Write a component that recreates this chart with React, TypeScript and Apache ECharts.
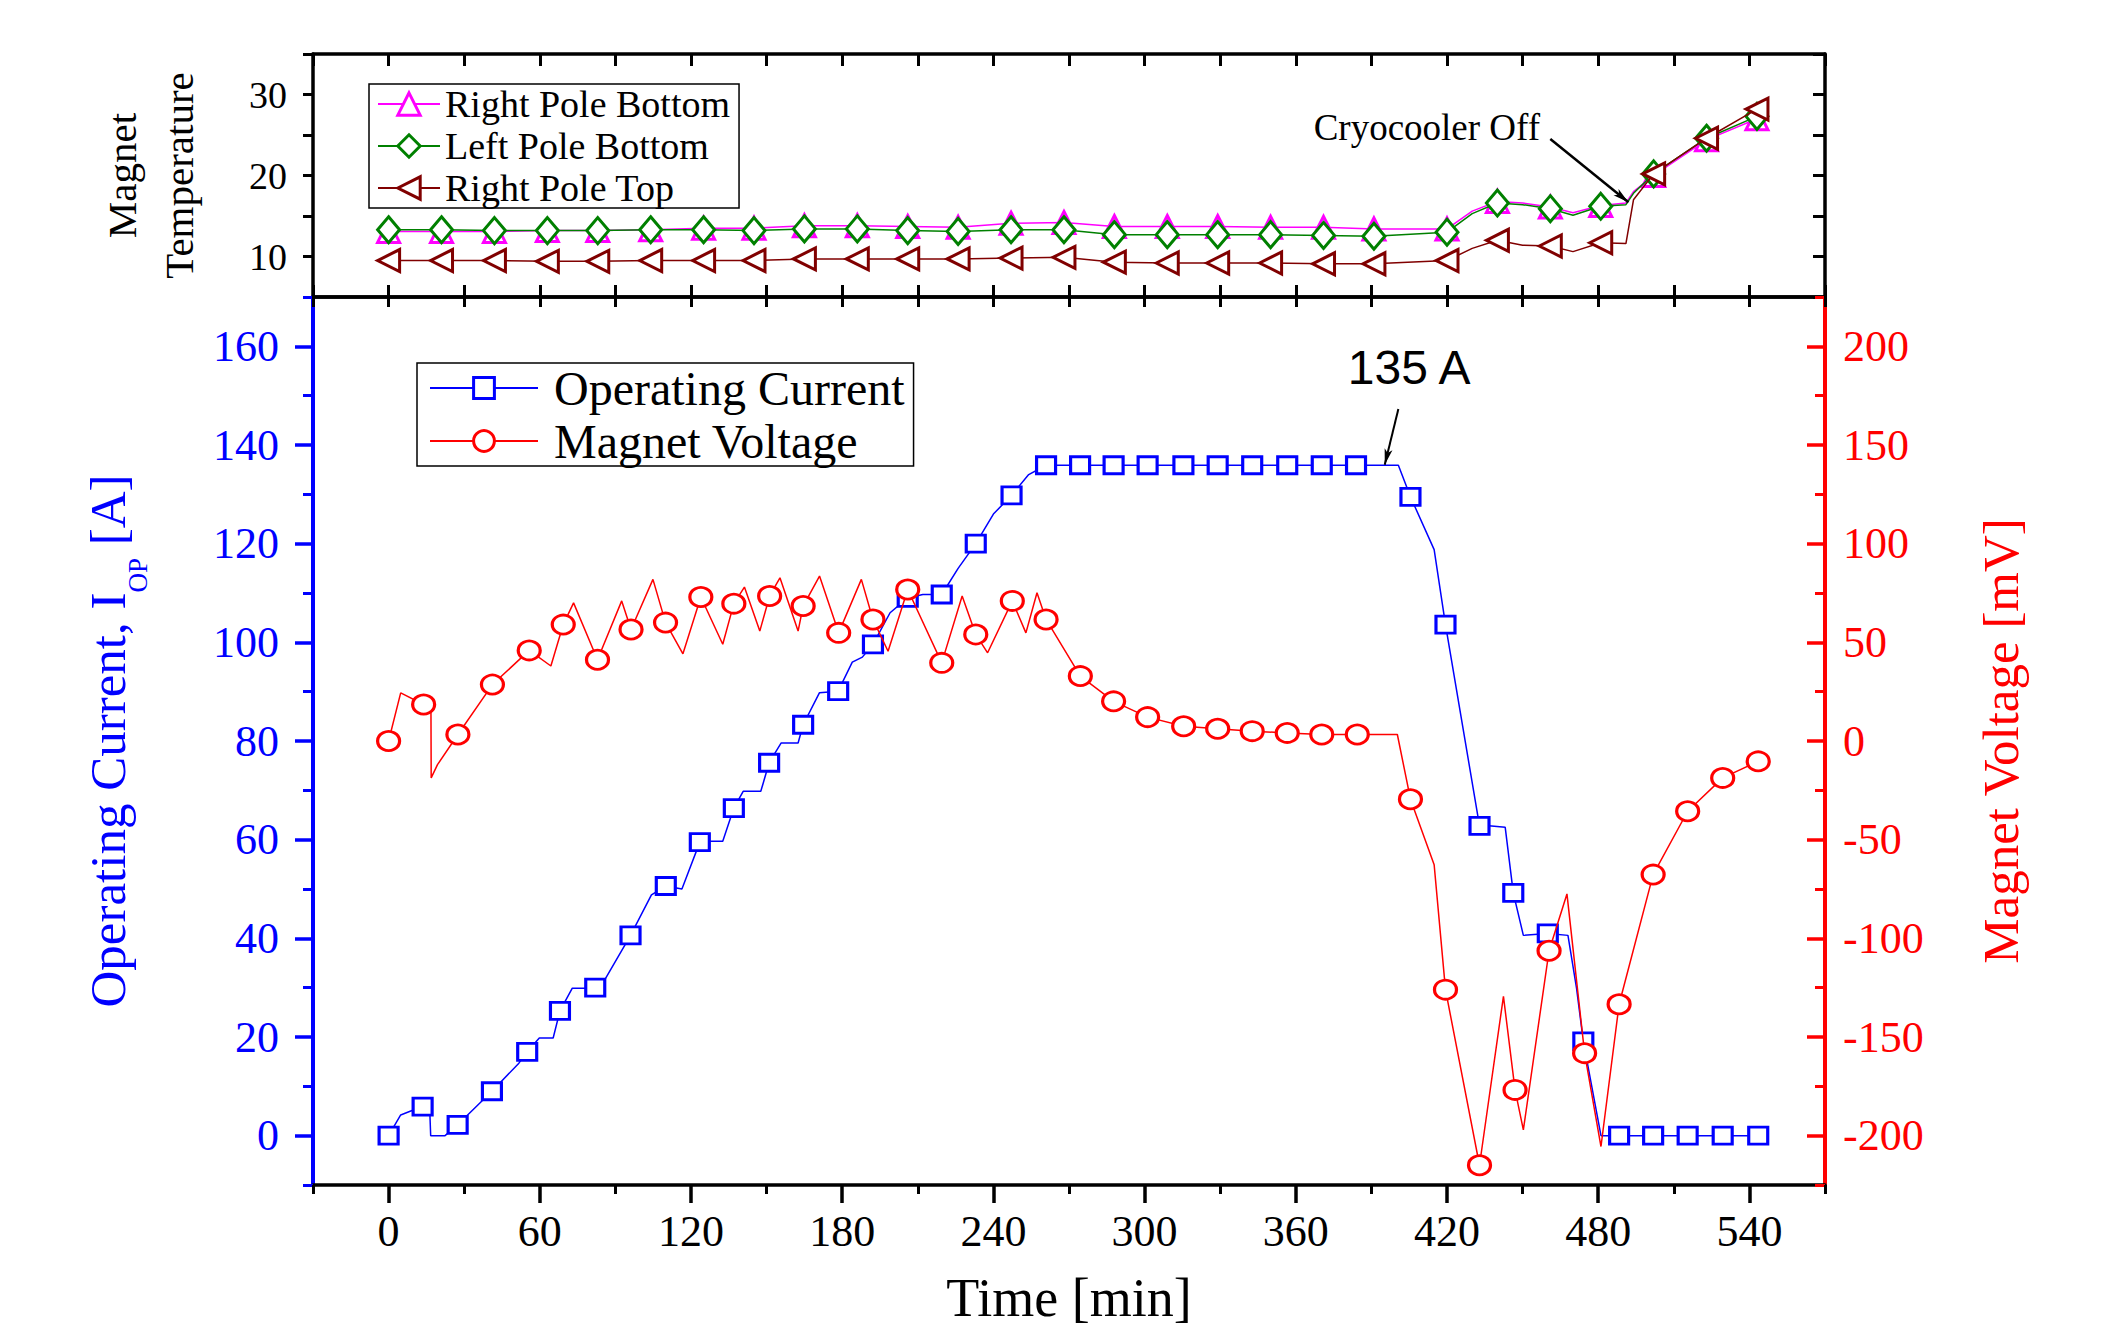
import React, { useEffect, useRef } from "react";
import * as echarts from "echarts";

const SERIF = '"Liberation Serif", "Times New Roman", serif';
const SANS = '"Liberation Sans", Arial, sans-serif';

// ---- tick values ----
const timeTicksMajor = [0, 60, 120, 180, 240, 300, 360, 420, 480, 540];
const timeTicksMinor = [-30, 30, 90, 150, 210, 270, 330, 390, 450, 510, 570];
const currentTicksMajor = [0, 20, 40, 60, 80, 100, 120, 140, 160];
const currentTicksMinor = [-10, 10, 30, 50, 70, 90, 110, 130, 150, 170];
const voltageTicksMajor = [-200, -150, -100, -50, 0, 50, 100, 150, 200];
const voltageTicksMinor = [-225, -175, -125, -75, -25, 25, 75, 125, 175, 225];
const tempTickLabels = [10, 20, 30];

// ---- temperature panel (markers every ~20 min) ----
const tempTimes = [0, 21, 42, 63, 83, 104, 125, 145, 165, 186, 206, 226, 247, 268, 288, 309, 329, 350, 371, 391, 420, 440, 461, 481, 502, 523, 543];
const rightPoleBottom = [13.1, 13.1, 13.1, 13.2, 13.2, 13.3, 13.5, 13.5, 13.8, 13.8, 13.7, 13.6, 14.1, 14.2, 13.7, 13.7, 13.7, 13.6, 13.6, 13.4, 13.4, 16.8, 16.1, 16.3, 20.0, 24.4, 27.0];
const leftPoleBottom = [13.3, 13.3, 13.2, 13.2, 13.2, 13.3, 13.3, 13.2, 13.4, 13.4, 13.2, 13.1, 13.3, 13.3, 12.7, 12.7, 12.7, 12.7, 12.6, 12.5, 13.0, 16.6, 15.9, 16.2, 20.2, 24.6, 27.3];
const rightPoleTop = [9.5, 9.5, 9.5, 9.4, 9.4, 9.5, 9.5, 9.5, 9.7, 9.7, 9.7, 9.7, 9.8, 9.9, 9.3, 9.2, 9.2, 9.2, 9.1, 9.1, 9.5, 12.0, 11.3, 11.7, 20.2, 24.6, 28.2];
// unmarked line points between markers
const rightPoleBottomPath = [[430, 15.6], [450, 16.6], [470, 15.4], [491, 16.6], [494, 18.0]];
const leftPoleBottomPath = [[430, 15.3], [450, 16.4], [470, 15.1], [491, 16.4], [494, 17.8]];
const rightPoleTopPath = [[430, 11.0], [450, 11.4], [470, 10.6], [491, 11.6], [494, 17.0]];

// ---- operating current (A) ----
const currentMarkers = [
  [0, 0], [13.5, 5.9], [27.4, 2.2], [41, 9], [55, 17], [68, 25.3], [82, 30], [96, 40.6], [110, 50.6],
  [123.5, 59.5], [137, 66.4], [151, 75.6], [164.5, 83.3], [178.4, 90.1], [192.2, 99.6], [206, 109],
  [219.5, 109.7], [233, 120], [247.2, 129.8], [260.9, 135.9], [274.4, 135.9], [287.7, 135.9], [301.2, 135.9],
  [315.4, 135.9], [329, 135.9], [342.7, 135.9], [356.6, 135.9], [370.3, 135.9], [383.9, 135.9],
  [405.5, 129.5], [419.4, 103.6], [432.9, 62.8], [446.3, 49.2], [460, 41], [474.1, 19.1],
  [488.3, 0], [501.8, 0], [515.5, 0], [529.4, 0], [543.5, 0],
];
const currentPath = [
  [4.8, 4.2], [8.3, 4.9], [16.4, 4.2], [16.7, 0], [22.4, 0], [51.7, 14.7], [59.8, 19.8], [65.3, 19.8],
  [72.9, 29.9], [79, 29.9], [86.1, 31.9], [104.3, 48.8], [116.4, 50], [127.5, 59.7], [132.6, 59.7],
  [140.7, 69.8], [147.7, 69.8], [155.8, 79.6], [162.5, 79.6], [171, 89.8], [184, 96], [188, 97],
  [199, 106], [212, 109.7], [226, 115], [240, 126], [254, 134], [400.7, 135.9], [414.9, 118.8],
  [436.6, 62.8], [443.1, 62.5], [450.3, 40.6], [468, 40.6], [471.4, 29.9], [481.1, 0],
];

// ---- magnet voltage (mV) ----
const voltageMarkers = [
  [0, 0], [13.9, 18.5], [27.5, 3.3], [41.2, 28.6], [55.8, 45.9], [69.3, 59], [82.9, 41.2], [96.2, 56.5],
  [109.9, 60], [123.9, 73], [137, 69.6], [151.2, 73.5], [164.5, 68.4], [178.6, 54.8], [192.2, 61.6],
  [206, 76.8], [219.5, 39.6], [233, 54], [247.5, 71], [260.9, 61.6], [274.5, 32.9], [287.7, 20.1],
  [301.2, 12.1], [315.5, 7.5], [329, 6.2], [342.7, 5], [356.6, 4.1], [370.3, 3.3], [384.4, 3.3],
  [405.5, -29.5], [419.4, -126], [432.9, -215], [447, -176.8], [460.5, -106.3], [474.6, -158.2],
  [488.3, -133.4], [501.8, -67.7], [515.5, -35.6], [529.4, -18.7], [543.5, -10.3],
];
const voltagePath = [
  [4.8, 24.4], [16.8, 18.5], [16.9, -18.7], [19.4, -12], [64.4, 38], [73.4, 70], [92.5, 71],
  [104.9, 81.9], [116.8, 44.2], [132.6, 49], [141.2, 78], [147.3, 55.7], [155.3, 82.7], [162.5, 55.7],
  [171, 83.6], [187.6, 81.9], [198.2, 45.5], [227.6, 73.5], [237.7, 44.7], [252.9, 54.8], [257.3, 75.1],
  [400.3, 3.3], [414.9, -62.7], [442.4, -129.4], [450.3, -197.1], [467.6, -77.5], [481.1, -205.5],
];

function buildLine(markers: number[][], path: number[][]) {
  const items = [
    ...markers.map((p) => ({ v: p, m: true })),
    ...path.map((p) => ({ v: p, m: false })),
  ].sort((a, b) => a.v[0] - b.v[0]);
  return items.map((it) => (it.m ? { value: it.v } : { value: it.v, symbol: "none" }));
}

function zipT(times: number[], vals: number[]) {
  return times.map((t, i) => [t, vals[i]]);
}

const BLUE = "#0000ff";
const RED = "#ff0000";
const MAGENTA = "#ff00ff";
const GREEN = "#008000";
const BROWN = "#800000";

export default function App() {
  const ref = useRef<HTMLDivElement>(null);

  useEffect(() => {
    if (!ref.current) return;
    const chart = echarts.init(ref.current, undefined, { renderer: "svg" });

    const blackLine = { show: true, onZero: false, lineStyle: { color: "#000", width: 3.5 } };
    const noSplit = { show: false };

    const option: any = {
      animation: false,
      backgroundColor: "#fff",
      grid: [
        { left: 313, right: 292, top: 54, height: 243 },
        { left: 313, right: 292, top: 297, height: 888 },
      ],
      legend: [
        {
          orient: "vertical",
          left: 369,
          top: 84,
          data: ["Right Pole Bottom", "Left Pole Bottom", "Right Pole Top"],
          itemWidth: 62,
          itemHeight: 28,
          itemGap: 4,
          padding: [1, 9, 1, 8],
          borderColor: "#000",
          borderWidth: 1.5,
          backgroundColor: "#fff",
          itemStyle: { borderWidth: 3 },
          textStyle: { fontFamily: SERIF, fontSize: 38, lineHeight: 38, color: "#000" },
        },
        {
          orient: "vertical",
          left: 417,
          top: 363,
          data: ["Operating Current", "Magnet Voltage"],
          itemWidth: 108,
          itemHeight: 26,
          itemGap: 5,
          padding: [1, 9, 1, 12],
          borderColor: "#000",
          borderWidth: 1.5,
          backgroundColor: "#fff",
          itemStyle: { borderWidth: 3 },
          textStyle: { fontFamily: SERIF, fontSize: 48, lineHeight: 48, color: "#000", padding: [0, 0, 0, 11] },
        },
      ],
      xAxis: [
        {
          type: "value", gridIndex: 0, min: -30, max: 570, interval: 30, position: "bottom",
          axisLine: blackLine, axisTick: { inside: true, length: 12, lineStyle: { color: "#000", width: 3 } },
          axisLabel: { show: false }, splitLine: noSplit,
        },
        {
          type: "value", gridIndex: 0, min: -30, max: 570, interval: 30, position: "top",
          axisLine: blackLine, axisTick: { inside: true, length: 12, lineStyle: { color: "#000", width: 3 } },
          axisLabel: { show: false }, splitLine: noSplit,
        },
        {
          type: "value", gridIndex: 1, min: -30, max: 570, position: "bottom",
          axisLine: blackLine,
          axisTick: { customValues: timeTicksMajor, inside: false, length: 18, lineStyle: { color: "#000", width: 3.5 } },
          axisLabel: { customValues: timeTicksMajor, fontFamily: SERIF, fontSize: 44, color: "#000", margin: 24 },
          splitLine: noSplit,
          name: "Time [min]", nameLocation: "middle", nameGap: 86,
          nameTextStyle: { fontFamily: SERIF, fontSize: 54, color: "#000" },
        },
        {
          type: "value", gridIndex: 1, min: -30, max: 570, position: "bottom",
          axisLine: { show: false, onZero: false },
          axisTick: { customValues: timeTicksMinor, inside: false, length: 9, lineStyle: { color: "#000", width: 3 } },
          axisLabel: { show: false }, splitLine: noSplit,
        },
        {
          type: "value", gridIndex: 1, min: -30, max: 570, interval: 30, position: "top",
          axisLine: blackLine, axisTick: { inside: true, length: 10, lineStyle: { color: "#000", width: 3 } },
          axisLabel: { show: false }, splitLine: noSplit,
        },
      ],
      yAxis: [
        {
          type: "value", gridIndex: 0, min: 5, max: 35, interval: 5, position: "left",
          axisLine: blackLine, axisTick: { inside: false, length: 10, lineStyle: { color: "#000", width: 3 } },
          axisLabel: { customValues: tempTickLabels, fontFamily: SERIF, fontSize: 38, color: "#000", margin: 26 },
          splitLine: noSplit,
          name: "Magnet\nTemperature", nameLocation: "middle", nameRotate: 90, nameGap: 106,
          nameTextStyle: { fontFamily: SERIF, fontSize: 41, lineHeight: 57, color: "#000", align: "center" },
        },
        {
          type: "value", gridIndex: 0, min: 5, max: 35, interval: 5, position: "right",
          axisLine: blackLine, axisTick: { inside: true, length: 12, lineStyle: { color: "#000", width: 3 } },
          axisLabel: { show: false }, splitLine: noSplit,
        },
        {
          type: "value", gridIndex: 1, min: -10, max: 170, position: "left",
          axisLine: { show: true, onZero: false, lineStyle: { color: BLUE, width: 4 } },
          axisTick: { customValues: currentTicksMajor, inside: false, length: 18, lineStyle: { color: BLUE, width: 3.5 } },
          axisLabel: { customValues: currentTicksMajor, fontFamily: SERIF, fontSize: 44, color: BLUE, margin: 34 },
          splitLine: noSplit,
          name: "Operating Current, I{sub|OP} [A]", nameLocation: "middle", nameRotate: 90, nameGap: 162,
          nameTextStyle: {
            fontFamily: SERIF, fontSize: 51, lineHeight: 86, color: BLUE,
            rich: { sub: { fontFamily: SERIF, fontSize: 27, lineHeight: 27, color: BLUE, verticalAlign: "bottom" } },
          },
        },
        {
          type: "value", gridIndex: 1, min: -10, max: 170, position: "left",
          axisLine: { show: false, onZero: false },
          axisTick: { customValues: currentTicksMinor, inside: false, length: 10, lineStyle: { color: BLUE, width: 3 } },
          axisLabel: { show: false }, splitLine: noSplit,
        },
        {
          type: "value", gridIndex: 1, min: -225, max: 225, position: "right",
          axisLine: { show: true, onZero: false, lineStyle: { color: RED, width: 4 } },
          axisTick: { customValues: voltageTicksMajor, inside: true, length: 18, lineStyle: { color: RED, width: 3.5 } },
          axisLabel: { customValues: voltageTicksMajor, fontFamily: SERIF, fontSize: 44, color: RED, margin: 18 },
          splitLine: noSplit,
          name: "Magnet Voltage [mV]", nameLocation: "middle", nameRotate: 90, nameGap: 150,
          nameTextStyle: { fontFamily: SERIF, fontSize: 51, color: RED },
        },
        {
          type: "value", gridIndex: 1, min: -225, max: 225, position: "right",
          axisLine: { show: false, onZero: false },
          axisTick: { customValues: voltageTicksMinor, inside: true, length: 10, lineStyle: { color: RED, width: 3 } },
          axisLabel: { show: false }, splitLine: noSplit,
        },
      ],
      series: [
        {
          name: "Right Pole Bottom", type: "line", xAxisIndex: 0, yAxisIndex: 0,
          data: buildLine(zipT(tempTimes, rightPoleBottom), rightPoleBottomPath),
          symbol: "triangle", symbolSize: 22, color: MAGENTA,
          lineStyle: { color: MAGENTA, width: 1.5 },
          itemStyle: { color: "#fff", borderColor: MAGENTA, borderWidth: 3 },
          z: 3,
        },
        {
          name: "Left Pole Bottom", type: "line", xAxisIndex: 0, yAxisIndex: 0,
          data: buildLine(zipT(tempTimes, leftPoleBottom), leftPoleBottomPath),
          symbol: "diamond", symbolSize: [22, 26], color: GREEN,
          lineStyle: { color: GREEN, width: 1.5 },
          itemStyle: { color: "#fff", borderColor: GREEN, borderWidth: 3 },
          z: 4,
        },
        {
          name: "Right Pole Top", type: "line", xAxisIndex: 0, yAxisIndex: 0,
          data: buildLine(zipT(tempTimes, rightPoleTop), rightPoleTopPath),
          symbol: "triangle", symbolRotate: 90, symbolSize: 22, color: BROWN,
          lineStyle: { color: BROWN, width: 1.5 },
          itemStyle: { color: "#fff", borderColor: BROWN, borderWidth: 3 },
          z: 5,
          markLine: {
            silent: true, symbol: ["none", "arrow"], symbolSize: [6, 16],
            lineStyle: { color: "#000", width: 2.5, type: "solid" },
            label: { show: false },
            data: [[{ coord: [461, 24.5] }, { coord: [492, 16.7] }]],
          },
          markPoint: {
            silent: true, symbol: "circle", symbolSize: 1,
            itemStyle: { color: "rgba(0,0,0,0)" },
            label: { show: true, position: "inside", formatter: "Cryocooler Off", fontFamily: SERIF, fontSize: 37, color: "#000" },
            data: [{ coord: [412, 25.9] }],
          },
        },
        {
          name: "Operating Current", type: "line", xAxisIndex: 2, yAxisIndex: 2,
          data: buildLine(currentMarkers, currentPath),
          symbol: "rect", symbolSize: [19, 17], color: BLUE,
          lineStyle: { color: BLUE, width: 1.5 },
          itemStyle: { color: "#fff", borderColor: BLUE, borderWidth: 3 },
          z: 3,
          markLine: {
            silent: true, symbol: ["none", "arrow"], symbolSize: [6, 16],
            lineStyle: { color: "#000", width: 2, type: "solid" },
            label: { show: false },
            data: [[{ coord: [400.7, 147.3] }, { coord: [395.3, 136] }]],
          },
          markPoint: {
            silent: true, symbol: "circle", symbolSize: 1,
            itemStyle: { color: "rgba(0,0,0,0)" },
            label: { show: true, position: "inside", formatter: "135 A", fontFamily: SANS, fontSize: 48, color: "#000" },
            data: [{ coord: [405, 155.7] }],
          },
        },
        {
          name: "Magnet Voltage", type: "line", xAxisIndex: 2, yAxisIndex: 4,
          data: buildLine(voltageMarkers, voltagePath),
          symbol: "circle", symbolSize: [22, 19], color: RED,
          lineStyle: { color: RED, width: 1.5 },
          itemStyle: { color: "#fff", borderColor: RED, borderWidth: 3 },
          z: 4,
        },
      ],
    };

    chart.setOption(option);
    return () => chart.dispose();
  }, []);

  return (
    <div
      ref={ref}
      style={{ position: "absolute", left: 0, top: 0, width: 2117, height: 1333, background: "#fff" }}
    />
  );
}
